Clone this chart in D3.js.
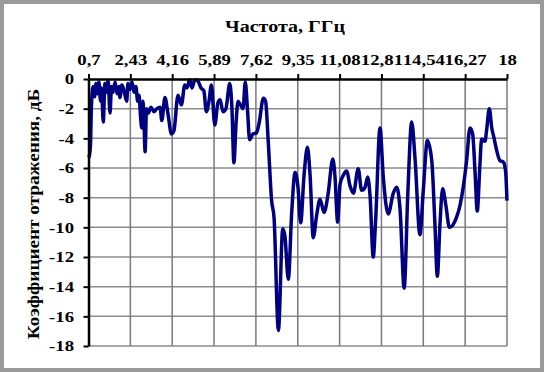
<!DOCTYPE html>
<html>
<head>
<meta charset="utf-8">
<script src="https://cdn.jsdelivr.net/npm/d3@7"></script>
<style>
	body { margin: 0; }
	text { font-family: "Liberation Serif", "Times New Roman", serif; font-weight: bold; }
</style>
</head>
<body>
<svg id="chart"></svg>
<script>
// frequency, GHz
var freq = [0.72, 0.78, 0.82, 0.89, 0.95, 1.01, 1.07, 1.13, 1.20, 1.24, 1.31, 1.38, 1.44, 1.51, 1.59, 1.65,
	1.71, 1.80, 1.88, 1.96, 2.00, 2.08, 2.17, 2.28, 2.33, 2.42, 2.50, 2.58, 2.66, 2.73, 2.79, 2.85, 2.90,
	2.95, 2.99, 3.04, 3.10, 3.17, 3.28, 3.41, 3.53, 3.66, 3.73, 3.86, 3.99, 4.13, 4.23, 4.40, 4.54, 4.68,
	4.77, 4.88, 4.98, 5.10, 5.23, 5.35, 5.47, 5.57, 5.68, 5.78, 5.92, 6.05, 6.14, 6.26, 6.38, 6.54, 6.63,
	6.71, 6.80, 6.88, 7.00, 7.09, 7.18, 7.27, 7.36, 7.50, 7.64, 7.75, 7.93, 8.02, 8.13, 8.27, 8.37, 8.55,
	8.73, 8.82, 8.96, 9.10, 9.24, 9.36, 9.47, 9.61, 9.75, 9.86, 9.99, 10.13, 10.27, 10.44, 10.60, 10.80,
	10.89, 11.00, 11.10, 11.23, 11.37, 11.51, 11.65, 11.85, 11.99, 12.13, 12.24, 12.34, 12.47, 12.57,
	12.75, 12.89, 13.09, 13.30, 13.44, 13.58, 13.75, 13.90, 14.06, 14.20, 14.40, 14.54, 14.71, 14.89,
	15.02, 15.12, 15.23, 15.34, 15.48, 15.62, 15.78, 15.92, 16.06, 16.19, 16.33, 16.47, 16.58, 16.68,
	16.77, 16.88, 16.95, 17.09, 17.16, 17.27, 17.37, 17.46, 17.57, 17.71, 17.85, 17.94, 18.0];
// reflection coefficient, dB
var refl = [-5.3, -4.5, -1.9, -0.5, -1.2, -0.3, -1.0, -0.2, -1.5, -0.6, -2.9, -0.3, -0.9, -0.1, -2.3, -0.5,
	-0.9, -0.2, -1.0, -0.5, -1.25, -0.4, -0.8, -1.5, -0.3, -0.7, -0.2, -0.9, -0.5, -1.5, -1.1, -2.5, -3.3,
	-1.5, -2.6, -4.9, -2.0, -2.3, -1.9, -2.2, -2.0, -1.9, -2.8, -1.25, -2.4, -3.7, -3.5, -1.1, -1.75, -0.4,
	-0.6, -0.05, -0.6, -0.05, -0.15, -0.6, -0.8, -2.2, -1.5, -0.4, -3.1, -1.6, -1.4, -2.2, -2.0, -0.3, -2.0,
	-5.65, -3.0, -1.5, -1.8, -2.0, -0.2, -2.0, -4.1, -3.7, -3.65, -3.0, -1.3, -1.5, -4.2, -8.2, -9.35, -16.95,
	-10.1, -10.6, -13.5, -9.0, -6.3, -7.3, -9.7, -6.5, -4.6, -6.5, -10.7, -9.2, -8.1, -9.0, -7.8, -5.4,
	-6.6, -9.65, -7.1, -6.5, -6.2, -7.2, -7.7, -6.05, -7.5, -7.3, -6.6, -7.9, -12.0, -9.5,
	-3.3, -6.7, -9.1, -7.7, -7.3, -8.8, -14.1, -7.7, -2.9, -5.4, -10.5, -7.5, -4.15, -5.5,
	-9.75, -13.3, -9.75, -7.4, -8.6, -10.0, -9.8, -9.3, -8.5, -7.3, -5.5, -3.3, -3.7, -6.3,
	-8.9, -5.8, -4.05, -4.2, -3.4, -2.0, -3.3, -3.95, -4.8, -5.5, -5.6, -6.2, -8.2];

var xTickValues = [0.7, 2.43, 4.16, 5.89, 7.62, 9.35, 11.08, 12.81, 14.54, 16.27, 18];
var xTickLabels = ["0,7", "2,43", "4,16", "5,89", "7,62", "9,35", "11,08", "12,81", "14,54", "16,27", "18"];
var yTickValues = [0, -2, -4, -6, -8, -10, -12, -14, -16, -18];

var w = 544, h = 372;
var plotLeft = 88.5, plotRight = 507, plotTop = 79, plotBottom = 346;
var stretch = "scale(1.25,1)";

var svg = d3.select("#chart")
	.attr("width", w)
	.attr("height", h);

// frame
svg.append("rect")
	.attr("width", w)
	.attr("height", h)
	.attr("fill", "#9b9b9b");
svg.append("rect")
	.attr("x", 4)
	.attr("y", 4)
	.attr("width", w - 8)
	.attr("height", h - 8)
	.attr("fill", "#ffffff");

var x = d3.scaleLinear().domain([0.7, 18]).range([plotLeft, plotRight]);
var y = d3.scaleLinear().domain([0, -18]).range([plotTop, plotBottom]);

// grid
svg.append("g").selectAll("line")
	.data(yTickValues.slice(1))
	.join("line")
	.attr("x1", plotLeft)
	.attr("x2", plotRight)
	.attr("y1", function (d) { return y(d); })
	.attr("y2", function (d) { return y(d); })
	.attr("stroke", "#8c8c8c")
	.attr("stroke-width", 1.5);
svg.append("g").selectAll("line")
	.data(xTickValues.slice(1))
	.join("line")
	.attr("x1", function (d) { return x(d); })
	.attr("x2", function (d) { return x(d); })
	.attr("y1", plotTop)
	.attr("y2", plotBottom)
	.attr("stroke", "#7a7a7a")
	.attr("stroke-width", 1.5);

// curve
var points = freq.map(function (f, i) { return [f, refl[i]]; });
var line = d3.line()
	.x(function (d) { return x(d[0]); })
	.y(function (d) { return y(d[1]); })
	.curve(d3.curveMonotoneX);
svg.append("path")
	.datum(points)
	.attr("d", line)
	.attr("fill", "none")
	.attr("stroke", "#000080")
	.attr("stroke-width", 3.5)
	.attr("stroke-linejoin", "round");

// axes
var xAxis = d3.axisTop(x)
	.tickValues(xTickValues)
	.tickFormat(function (d, i) { return xTickLabels[i]; })
	.tickSize(5)
	.tickSizeOuter(0)
	.tickPadding(9);
var gx = svg.append("g")
	.attr("transform", "translate(0," + plotTop + ")")
	.call(xAxis);

var yAxis = d3.axisLeft(y)
	.tickValues(yTickValues)
	.tickFormat(function (d) { return String(d); })
	.tickSize(5)
	.tickSizeOuter(0);
var gy = svg.append("g")
	.attr("transform", "translate(" + plotLeft + ",0)")
	.call(yAxis);

[gx, gy].forEach(function (g) {
	g.attr("font-family", null).attr("font-size", null);
	g.select(".domain").attr("stroke", "#000").attr("stroke-width", 2.5);
	g.selectAll(".tick line").attr("stroke", "#000").attr("stroke-width", 2);
	g.selectAll(".tick text")
		.attr("fill", "#000")
		.style("font-size", "15px")
		.attr("transform", stretch);
});
gy.selectAll(".tick text").attr("x", -11.6);

// titles
svg.append("text")
	.attr("transform", "translate(285,32) " + stretch)
	.attr("text-anchor", "middle")
	.style("font-size", "16px")
	.text("Частота, ГГц");

svg.append("text")
	.attr("transform", "translate(39,214) rotate(-90) scale(1.2,1)")
	.attr("text-anchor", "middle")
	.style("font-size", "16px")
	.text("Коэффициент отражения, дБ");
</script>
</body>
</html>
